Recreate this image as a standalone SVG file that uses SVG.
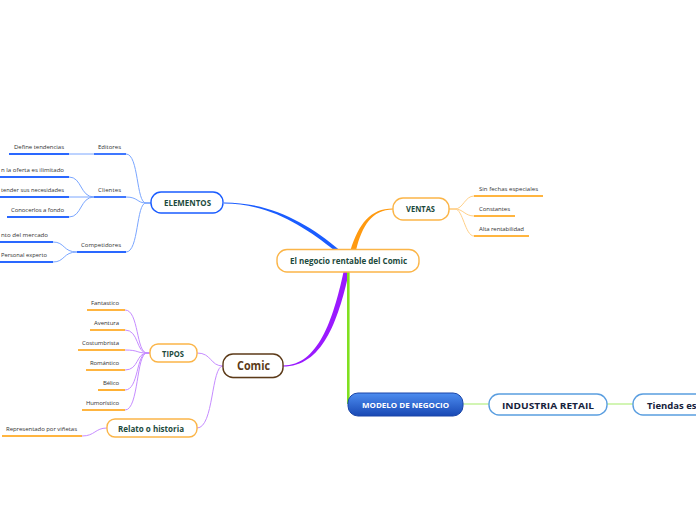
<svg xmlns="http://www.w3.org/2000/svg" width="696" height="520" viewBox="0 0 696 520">
<style>
.bg{fill:#ffffff}
.t{font-family:"Open Sans","Noto Sans","DejaVu Sans",sans-serif;font-weight:bold;fill:#1d4a3c}
.leaf{font-family:"Open Sans","Noto Sans","DejaVu Sans",sans-serif;font-size:6px;fill:#333333}
.ob{fill:#ffffff;stroke:#fbb548;stroke-width:1.4}
.bb{fill:#ffffff;stroke:#1a5cff;stroke-width:1.4}
.lb{fill:#ffffff;stroke:#5a9ee0;stroke-width:1.4}
.ul-o{stroke:#ff9d00;stroke-width:1.6;fill:none}
.ul-b{stroke:#2a68ff;stroke-width:1.8;fill:none}
.c-b{stroke:#7aa6ff;stroke-width:1;fill:none}
.c-o{stroke:#ffd088;stroke-width:1;fill:none}
.c-p{stroke:#c68cff;stroke-width:1;fill:none}
.c-g{stroke:#d2f5b4;stroke-width:2;fill:none}
</style>
<defs>
<linearGradient id="gblue" x1="0" y1="0" x2="0" y2="1">
<stop offset="0" stop-color="#4d8df0"/>
<stop offset="1" stop-color="#1848b4"/>
</linearGradient>
</defs>
<rect class="bg" x="0" y="0" width="696" height="520"/>

<g id="connectors">
<path d="M224,202.4 C270,202.4 308,223 339.5,250 L334.5,250.5 C305,227 270,203.6 224,203.6 Z" fill="#1a5cff"/>
<path d="M350.5,250 C359,224 370,208.5 393,208.5 L393,209.6 C372,209.6 362,226 356,250.5 Z" fill="#ff9a10"/>
<path d="M343.5,272 C333,320 318,365.5 283,365.5 L283,366.6 C322,366.6 338,322 349,272 Z" fill="#9a1aff"/>
<path d="M348.3,272 L348.3,404" stroke="#80e020" stroke-width="2.6" fill="none"/>
<path class="c-g" d="M463,404 L489,404"/>
<path class="c-g" d="M607,404 L633,404"/>
<path class="c-b" d="M151,203 L146,203 C136,203 139,154 126,154"/>
<path class="c-b" d="M151,203 L146,203 C137,203 138,197 126,197"/>
<path class="c-b" d="M151,203 L146,203 C136,203 139,252 126,252"/>
<path class="c-b" d="M94,154 L69,154"/>
<path class="c-b" d="M94,197 C80,197 82,177 69,177"/>
<path class="c-b" d="M94,197 L69,197"/>
<path class="c-b" d="M94,197 C80,197 82,217 69,217"/>
<path class="c-b" d="M77,252 C63,252 65,242 53,242"/>
<path class="c-b" d="M77,252 C63,252 65,262 53,262"/>
<path class="c-o" d="M449,209 L455,209 C463,209 465,196 474,196"/>
<path class="c-o" d="M449,209 L455,209 C463,209 465,216 474,216"/>
<path class="c-o" d="M449,209 L455,209 C463,209 465,236 474,236"/>
<path class="c-p" d="M223,366 C210,366 212,353 197,353"/>
<path class="c-p" d="M223,366 C211,366 214,428 197,428"/>
<path class="c-p" d="M150,353 L147,353 C136,353 139,310 125,310"/>
<path class="c-p" d="M150,353 L147,353 C136,353 139,330 125,330"/>
<path class="c-p" d="M150,353 L147,353 C136,353 139,350 125,350"/>
<path class="c-p" d="M150,353 L147,353 C136,353 139,370 125,370"/>
<path class="c-p" d="M150,353 L147,353 C136,353 139,390 125,390"/>
<path class="c-p" d="M150,353 L147,353 C136,353 139,410 125,410"/>
<path class="c-p" d="M107,428 C95,428 95,436 82,436"/>
</g>

<g id="central">
<rect class="ob" x="277" y="249.5" width="142" height="22.5" rx="10"/>
<text class="t" x="290" y="263.5" font-size="8" textLength="117" lengthAdjust="spacingAndGlyphs">El negocio rentable del Comic</text>
</g>

<g id="elementos">
<rect class="bb" x="151" y="192" width="72" height="21" rx="10"/>
<text class="t" x="164" y="205.5" font-size="8" textLength="47" lengthAdjust="spacingAndGlyphs">ELEMENTOS</text>
</g>

<g id="ventas">
<rect class="ob" x="393" y="198" width="56" height="22" rx="10"/>
<text class="t" x="406" y="212" font-size="8" textLength="29" lengthAdjust="spacingAndGlyphs">VENTAS</text>
</g>

<g id="comic">
<rect x="223.5" y="355" width="60" height="23.5" rx="10" fill="#000" opacity="0.12"/>
<rect x="223" y="354" width="60" height="23.5" rx="10" fill="#ffffff" stroke="#5c3a18" stroke-width="1.4"/>
<text class="t" x="237" y="370" font-size="12" textLength="33" lengthAdjust="spacingAndGlyphs" style="fill:#5c3a18">Comic</text>
</g>

<g id="tipos">
<rect class="ob" x="150" y="344" width="47" height="18" rx="8"/>
<text class="t" x="162" y="356.5" font-size="8" textLength="22" lengthAdjust="spacingAndGlyphs">TIPOS</text>
</g>

<g id="relato">
<rect class="ob" x="107" y="419" width="90" height="18" rx="8"/>
<text class="t" x="118" y="431.5" font-size="8.5" textLength="66" lengthAdjust="spacingAndGlyphs">Relato o historia</text>
</g>

<g id="modelo">
<rect x="348" y="393" width="115" height="23" rx="10" fill="url(#gblue)" stroke="#1a45a8" stroke-width="1"/>
<text class="t" x="362" y="407.5" font-size="7" textLength="87" lengthAdjust="spacingAndGlyphs" style="fill:#ffffff">MODELO DE NEGOCIO</text>
</g>

<g id="industria">
<rect class="lb" x="489" y="394" width="118" height="21" rx="10"/>
<text class="t" x="502" y="408.5" font-size="9.5" textLength="92" lengthAdjust="spacingAndGlyphs" style="fill:#16223c">INDUSTRIA RETAIL</text>
</g>

<g id="tiendas">
<rect class="lb" x="633" y="394" width="110" height="21" rx="10"/>
<text class="t" x="647" y="408.5" font-size="9.5" style="fill:#16223c">Tiendas es</text>
</g>

<g id="leaves-elementos">
<path class="ul-b" d="M94,154 L126,154"/>
<text class="leaf" x="98" y="149" textLength="23">Editores</text>
<path class="ul-b" d="M9,154 L69,154"/>
<text class="leaf" x="14" y="149" textLength="50">Define tendencias</text>
<path class="ul-b" d="M94,197 L126,197"/>
<text class="leaf" x="98" y="192" textLength="23">Clientes</text>
<path class="ul-b" d="M0,177 L69,177"/>
<text class="leaf" x="1" y="172" textLength="63" lengthAdjust="spacingAndGlyphs">n la oferta es ilimitado</text>
<path class="ul-b" d="M0,197 L69,197"/>
<text class="leaf" x="1" y="192" textLength="63" lengthAdjust="spacingAndGlyphs">tender sus necesidades</text>
<path class="ul-b" d="M7,217 L69,217"/>
<text class="leaf" x="11" y="212" textLength="53">Conocerlos a fondo</text>
<path class="ul-b" d="M77,252 L126,252"/>
<text class="leaf" x="81" y="247" textLength="40">Competidores</text>
<path class="ul-b" d="M0,242 L53,242"/>
<text class="leaf" x="1" y="237" textLength="47" lengthAdjust="spacingAndGlyphs">nto del mercado</text>
<path class="ul-b" d="M0,262 L53,262"/>
<text class="leaf" x="1" y="257" textLength="46" lengthAdjust="spacingAndGlyphs">Personal experto</text>
</g>

<g id="leaves-ventas">
<path class="ul-o" d="M474,196 L543,196"/>
<text class="leaf" x="479" y="191" textLength="59">Sin fechas especiales</text>
<path class="ul-o" d="M474,216 L515,216"/>
<text class="leaf" x="479" y="211" textLength="31">Constantes</text>
<path class="ul-o" d="M474,236 L529,236"/>
<text class="leaf" x="479" y="231" textLength="45">Alta rentabilidad</text>
</g>

<g id="leaves-tipos">
<path class="ul-o" d="M87,310 L125,310"/>
<text class="leaf" x="91" y="305" textLength="28">Fantastico</text>
<path class="ul-o" d="M90,330 L125,330"/>
<text class="leaf" x="94" y="325" textLength="25">Aventura</text>
<path class="ul-o" d="M78,350 L125,350"/>
<text class="leaf" x="82" y="345" textLength="37">Costumbrista</text>
<path class="ul-o" d="M86,370 L125,370"/>
<text class="leaf" x="90" y="365" textLength="29">Romántico</text>
<path class="ul-o" d="M98,390 L125,390"/>
<text class="leaf" x="103" y="385" textLength="16">Bélico</text>
<path class="ul-o" d="M82,410 L125,410"/>
<text class="leaf" x="86" y="405" textLength="33">Humorístico</text>
</g>

<g id="leaves-relato">
<path class="ul-o" d="M2,436 L82,436"/>
<text class="leaf" x="6" y="430.5" textLength="71">Representado por viñetas</text>
</g>
</svg>
